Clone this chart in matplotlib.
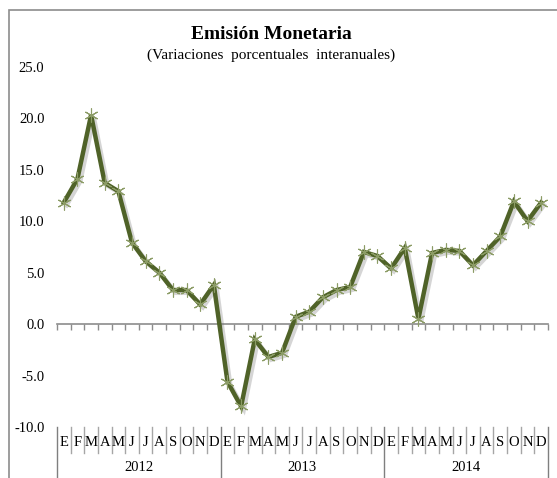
import matplotlib.pyplot as plt
import matplotlib.patheffects as pe
import matplotlib.transforms as mtransforms
import numpy as np

plt.rcParams['font.family'] = ['Liberation Serif', 'DejaVu Serif']

years = ['2012', '2013', '2014']
months = ['E', 'F', 'M', 'A', 'M', 'J', 'J', 'A', 'S', 'O', 'N', 'D']
values_2012 = [11.8, 14.1, 20.3, 13.7, 12.9, 7.9, 6.1, 5.0, 3.3, 3.3, 1.9, 3.8]
values_2013 = [-5.6, -8.0, -1.5, -3.2, -2.8, 0.7, 1.2, 2.6, 3.3, 3.6, 7.0, 6.6]
values_2014 = [5.4, 7.4, 0.5, 6.9, 7.2, 7.1, 5.7, 7.1, 8.5, 11.9, 10.0, 11.8]

values = np.array(values_2012 + values_2013 + values_2014)
x = np.arange(len(values))

fig = plt.figure(figsize=(5.57, 4.78), dpi=100)
ax = fig.add_axes([0.1023, 0.1067, 0.8815, 0.754])

line_color = '#4F6228'
marker_color = '#8C9C66'
ax.plot(x, values, color=line_color, lw=3.2, solid_joinstyle='miter', zorder=3,
        path_effects=[pe.SimpleLineShadow(offset=(2, -2), shadow_color='#777777', alpha=0.3),
                      pe.Normal()])
ax.plot(x, values, ls='none', marker=(6, 2, 0), ms=10, mew=0.8,
        mec=marker_color, zorder=4)

ax.set_xlim(-0.5, len(values) - 0.5)
ax.set_ylim(-10, 25)
ax.set_yticks(np.arange(-10, 26, 5))
ax.set_yticklabels(['%.1f' % v for v in np.arange(-10, 26, 5)])
ax.tick_params(axis='y', length=0, pad=9, labelsize=10.5)

for s in ['top', 'right', 'left']:
    ax.spines[s].set_visible(False)
ax.spines['bottom'].set_position(('data', 0))
ax.spines['bottom'].set_color('#8C8C8C')
ax.spines['bottom'].set_linewidth(1.2)
ax.set_xticks(np.arange(-0.5, len(values), 1))
ax.set_xticklabels([])
ax.tick_params(axis='x', length=4.5, width=1, color='#8C8C8C', direction='out')

# category labels (months and years) below the plot
trans = mtransforms.blended_transform_factory(ax.transData, ax.transAxes)
for i in range(len(values)):
    ax.text(i, -0.042, months[i % 12], transform=trans, ha='center', va='center',
            fontsize=10.5, clip_on=False)
for b in np.arange(-0.5, len(values), 1):
    if (b + 0.5) % 12 == 0 or b == len(values) - 0.5:
        ax.plot([b, b], [0, -0.15], transform=trans, color='#7F7F7F', lw=1, clip_on=False)
    else:
        ax.plot([b, b], [0, -0.072], transform=trans, color='#A6A6A6', lw=1, clip_on=False)
for k, yr in enumerate(years):
    ax.text(12 * k + 5.5, -0.111, yr, transform=trans, ha='center', va='center',
            fontsize=10.5, clip_on=False)

fig.text(0.487, 0.927, 'Emisión Monetaria', ha='center', va='center',
         fontsize=14, fontweight='bold')
fig.text(0.486, 0.885, '(Variaciones  porcentuales  interanuales)', ha='center',
         va='center', fontsize=11)

# chart frame
frame = plt.Rectangle((9 / 557, -0.1), 1.2, (478 - 10) / 478 + 0.1, transform=fig.transFigure,
                      fill=False, ec='#8C8C8C', lw=1.2)
fig.patches.append(frame)

fig.savefig('out.png', dpi=100)
